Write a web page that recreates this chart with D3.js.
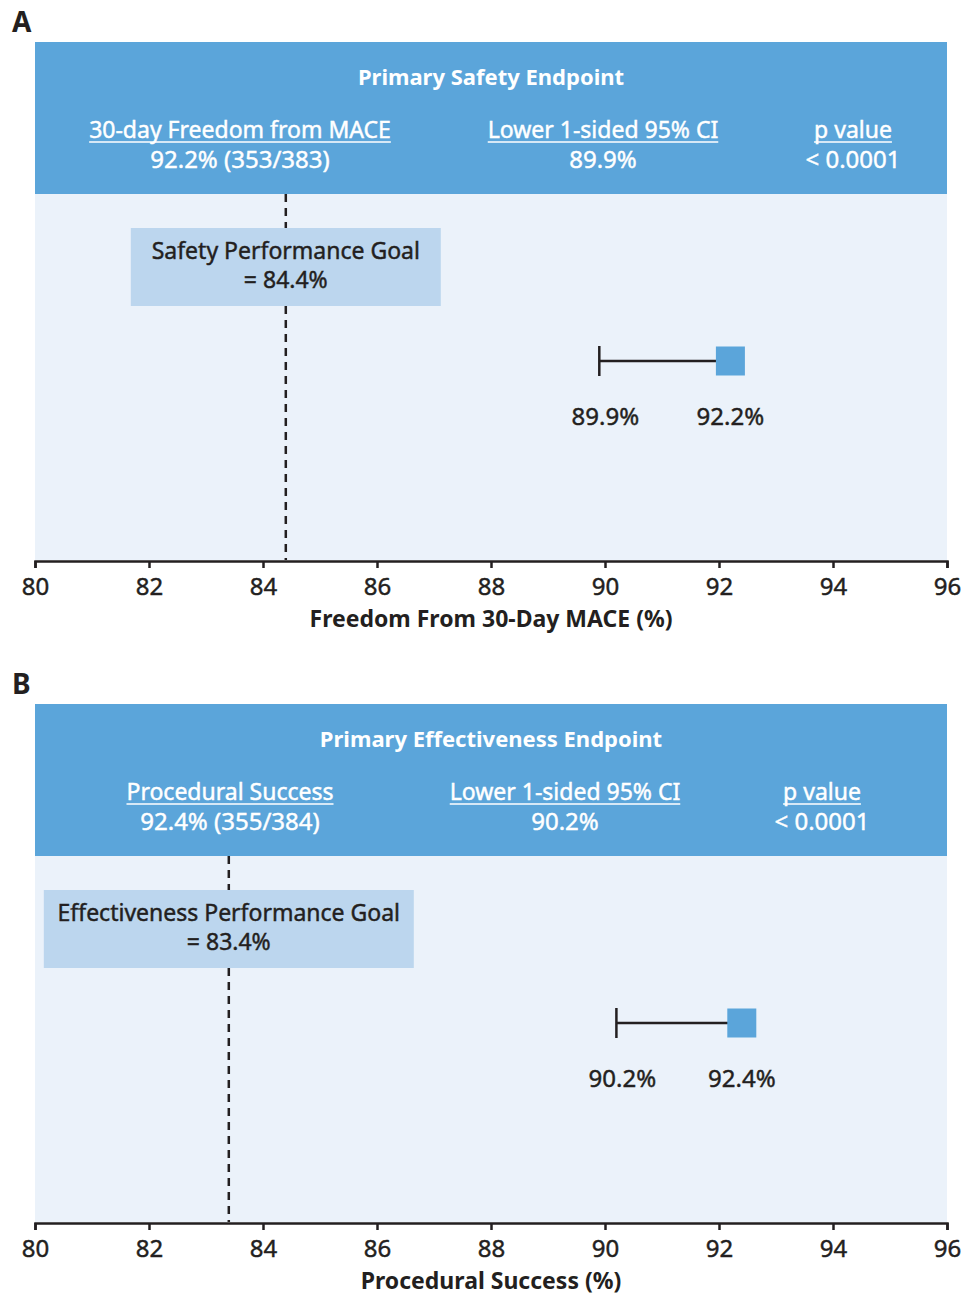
<!DOCTYPE html>
<html>
<head>
<meta charset="utf-8">
<script src="https://cdn.jsdelivr.net/npm/d3@7"></script>
<style>
  html, body { margin: 0; padding: 0; background: #fff; }
  svg { display: block; font-family: "Noto Sans", "Open Sans", sans-serif; }
</style>
</head>
<body>
<svg id="chart" width="971" height="1297"></svg>
<script>
// ---- data ----
const panelLetters = ["A", "B"];
const endpointTitles = ["Primary Safety Endpoint", "Primary Effectiveness Endpoint"];
const headerLabelsA = ["30-day Freedom from MACE", "Lower 1-sided 95% CI", "p value"];
const headerValuesA = ["92.2% (353/383)", "89.9%", "< 0.0001"];
const headerLabelsB = ["Procedural Success", "Lower 1-sided 95% CI", "p value"];
const headerValuesB = ["92.4% (355/384)", "90.2%", "< 0.0001"];
const pointEstimates = [92.2, 92.4];
const lowerCI = [89.9, 90.2];
const performanceGoals = [84.4, 83.4];
const goalLabels = ["Safety Performance Goal", "Effectiveness Performance Goal"];
const axisTitles = ["Freedom From 30-Day MACE (%)", "Procedural Success (%)"];
const xTicks = [80, 82, 84, 86, 88, 90, 92, 94, 96];

// ---- layout ----
const svg = d3.select("#chart");
const left = 35, right = 947;
const x = d3.scaleLinear().domain([80, 96]).range([left, right]);
const headerCols = [[240, 603, 853], [230, 565, 822]];
const boxWidths = [310, 370];
const headerLabels = [headerLabelsA, headerLabelsB];
const headerValues = [headerValuesA, headerValuesB];
const textColor = "#231F20";
const blue = "#5BA5DA";

function heavy(sel, color) {
  return sel.attr("stroke", color).attr("stroke-width", 0.45).attr("paint-order", "stroke");
}

panelLetters.forEach((letter, i) => {
  const g = svg.append("g").attr("transform", `translate(0,${i * 662})`);
  const headTop = 42, headBot = 194, axisY = 560;

  g.append("text").attr("x", 12).attr("y", 32)
    .attr("font-size", 28).attr("font-weight", 700).attr("fill", textColor)
    .text(letter);

  // plot background
  g.append("rect").attr("x", left).attr("y", headBot)
    .attr("width", right - left).attr("height", axisY - headBot)
    .attr("fill", "#EBF2FA");

  // header
  g.append("rect").attr("x", left).attr("y", headTop)
    .attr("width", right - left).attr("height", headBot - headTop)
    .attr("fill", blue);
  g.append("text").attr("x", (left + right) / 2).attr("y", 85)
    .attr("text-anchor", "middle").attr("font-size", 22).attr("font-weight", 700)
    .attr("fill", "#fff").text(endpointTitles[i]);

  headerLabels[i].forEach((lab, j) => {
    const t = g.append("text").attr("x", headerCols[i][j]).attr("y", 138)
      .attr("text-anchor", "middle").attr("font-size", 23).attr("fill", "#fff").text(lab);
    heavy(t, "#fff");
    const w = t.node().getComputedTextLength();
    g.append("line").attr("x1", headerCols[i][j] - w / 2).attr("x2", headerCols[i][j] + w / 2)
      .attr("y1", 142).attr("y2", 142).attr("stroke", "#fff").attr("stroke-width", 1.6);
    heavy(g.append("text").attr("x", headerCols[i][j]).attr("y", 168)
      .attr("text-anchor", "middle").attr("font-size", 24).attr("fill", "#fff")
      .text(headerValues[i][j]), "#fff");
  });

  // performance goal dashed line
  const gx = x(performanceGoals[i]);
  g.append("line").attr("x1", gx).attr("x2", gx).attr("y1", headBot).attr("y2", axisY)
    .attr("stroke", textColor).attr("stroke-width", 2.5).attr("stroke-dasharray", "8,6");

  // goal label box
  const bw = boxWidths[i];
  g.append("rect").attr("x", gx - bw / 2).attr("y", 228).attr("width", bw).attr("height", 78)
    .attr("fill", "#BCD6EE");
  heavy(g.append("text").attr("x", gx).attr("y", 259).attr("text-anchor", "middle")
    .attr("font-size", 23).attr("fill", textColor).text(goalLabels[i]), textColor);
  heavy(g.append("text").attr("x", gx).attr("y", 288).attr("text-anchor", "middle")
    .attr("font-size", 23).attr("fill", textColor)
    .text("= " + performanceGoals[i].toFixed(1) + "%"), textColor);

  // CI whisker and point estimate
  const my = 361, sq = 29;
  const lx = x(lowerCI[i]), px = x(pointEstimates[i]);
  g.append("line").attr("x1", lx).attr("x2", px).attr("y1", my).attr("y2", my)
    .attr("stroke", textColor).attr("stroke-width", 2.5);
  g.append("line").attr("x1", lx).attr("x2", lx).attr("y1", my - 15).attr("y2", my + 15)
    .attr("stroke", textColor).attr("stroke-width", 2.5);
  g.append("rect").attr("x", px - sq / 2).attr("y", my - sq / 2).attr("width", sq).attr("height", sq)
    .attr("fill", blue);
  heavy(g.append("text").attr("x", lx + 6).attr("y", 425).attr("text-anchor", "middle")
    .attr("font-size", 24).attr("fill", textColor).text(lowerCI[i].toFixed(1) + "%"), textColor);
  heavy(g.append("text").attr("x", px).attr("y", 425).attr("text-anchor", "middle")
    .attr("font-size", 24).attr("fill", textColor).text(pointEstimates[i].toFixed(1) + "%"), textColor);

  // axis
  const ax = g.append("g").attr("transform", `translate(0,${axisY + 1})`)
    .call(d3.axisBottom(x).tickValues(xTicks).tickSize(7).tickPadding(10).tickSizeOuter(7));
  ax.select(".domain").attr("stroke", textColor).attr("stroke-width", 2.5);
  ax.selectAll(".tick line").attr("stroke", textColor).attr("stroke-width", 2.5);
  heavy(ax.selectAll(".tick text").attr("font-size", 24).attr("fill", textColor)
    .attr("font-family", "\"Noto Sans\", sans-serif"), textColor);

  g.append("text").attr("x", (left + right) / 2).attr("y", 627).attr("text-anchor", "middle")
    .attr("font-size", 23).attr("font-weight", 700).attr("fill", textColor).text(axisTitles[i]);
});
</script>
</body>
</html>
